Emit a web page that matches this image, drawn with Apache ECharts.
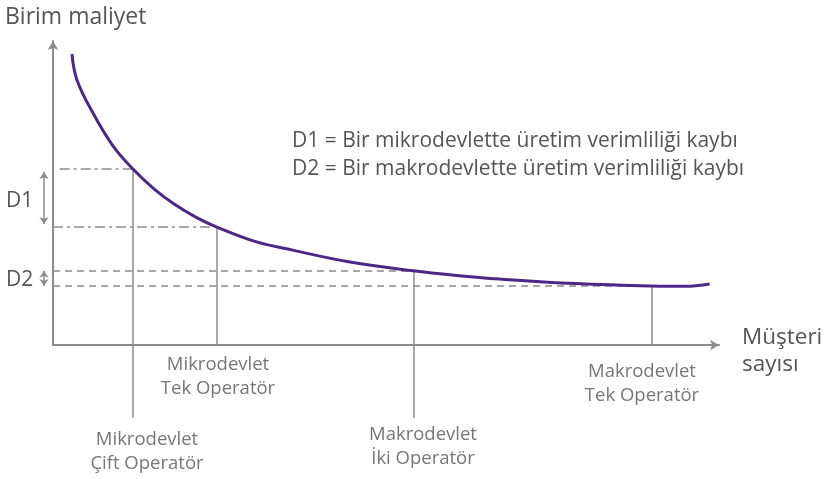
<!DOCTYPE html>
<html>
<head>
<meta charset="utf-8">
<script src="https://cdn.jsdelivr.net/npm/echarts@6/dist/echarts.min.js"></script>
<style>html,body{margin:0;padding:0;background:#fff;}#c{width:826px;height:479px;}</style>
</head>
<body>
<div id="c"></div>
<script>
// Curve of unit cost vs number of customers
const curveX = [2.85, 3.6, 6.0, 9.0, 12.0, 15.2, 18.3, 21.5, 24.6, 30.3, 36.0, 44.6, 54.1, 60.5, 67.1, 78.5, 89.9, 94.9, 98.6];
const curveY = [95.7, 87.2, 76.3, 65.5, 57.9, 51.3, 46.2, 42.0, 38.8, 34.1, 31.2, 27.3, 24.4, 22.9, 21.7, 20.2, 19.4, 19.3, 20.1];
// Reference points on the curve
const refNames = ['Mikrodevlet\nÇift Operatör', 'Mikrodevlet\nTek Operatör', 'Makrodevlet\nİki Operatör', 'Makrodevlet\nTek Operatör'];
const refX = [12.0, 24.6, 54.1, 89.9];
const refY = [57.9, 38.8, 24.4, 19.4];
const dropTo = [-24, 0, -24, 0];      // lower end of each vertical line
const hStart = [1, 0, 0, 0];          // left start of each horizontal line
const arrowX = -1.35;
const legendLines = ['D1 = Bir mikrodevlette üretim verimliliği kaybı', 'D2 = Bir makrodevlette üretim verimliliği kaybı'];

const chart = echarts.init(document.getElementById('c'));
const gray = '#8c8c8c';
const font = '"Open Sans", "Noto Sans", sans-serif';

const verticals = refX.map((x, i) => ({coords: [[x, refY[i]], [x, dropTo[i]]]}));
const dashDot = [0, 1].map(i => ({coords: [[hStart[i], refY[i]], [refX[i], refY[i]]]}));
const dashed = [2, 3].map(i => ({coords: [[hStart[i], refY[i]], [refX[i], refY[i]]]}));
const inset1 = 1.0;
const arrows = [
  {coords: [[arrowX, refY[0] - inset1], [arrowX, refY[1] + inset1]]},
  {coords: [[arrowX, refY[2]], [arrowX, refY[3]]]}
];

const axisCommon = {
  type: 'value',
  axisLine: {show: true, symbol: ['none', 'arrow'], symbolSize: [8, 9], lineStyle: {color: gray, width: 2}},
  axisTick: {show: false}, axisLabel: {show: false}, splitLine: {show: false}
};

const txt = (text, x, y, size, color, align, lh) => ({
  type: 'text', x: x, y: y,
  style: {text: text, font: size + 'px ' + font, fill: color, align: align || 'left', verticalAlign: 'middle', lineHeight: lh || Math.round(size * 1.3)}
});

chart.setOption({
  animation: false,
  grid: {left: 53, right: 107, top: 41, bottom: 134},
  xAxis: Object.assign({min: 0, max: 100}, axisCommon),
  yAxis: Object.assign({min: 0, max: 100}, axisCommon),
  series: [
    {type: 'lines', coordinateSystem: 'cartesian2d', clip: false, silent: true,
     lineStyle: {color: gray, width: 1.5, opacity: 1}, data: verticals},
    {type: 'lines', coordinateSystem: 'cartesian2d', clip: false, silent: true,
     lineStyle: {color: gray, width: 1.5, opacity: 1, type: [10, 4, 3, 4]}, data: dashDot},
    {type: 'lines', coordinateSystem: 'cartesian2d', clip: false, silent: true,
     lineStyle: {color: gray, width: 1.5, opacity: 1, type: [7, 5]}, data: dashed},
    {type: 'lines', coordinateSystem: 'cartesian2d', clip: false, silent: true,
     symbol: ['arrow', 'arrow'], symbolSize: 7,
     lineStyle: {color: gray, width: 1.5, opacity: 1}, data: arrows},
    {type: 'line', data: curveX.map((x, i) => [x, curveY[i]]), smooth: 0.4, showSymbol: false,
     clip: false, z: 5, lineStyle: {color: '#4b2885', width: 3}}
  ],
  graphic: [
    txt('Birim maliyet', 5, 17, 23, '#555'),
    txt('Müşteri\nsayısı', 742, 351, 22.5, '#555', 'left', 27),
    txt(legendLines[0], 292, 141, 21, '#555'),
    txt(legendLines[1], 292, 169, 21, '#555'),
    txt('D1', 6, 201, 21, '#555'),
    txt('D2', 6, 280, 21, '#555'),
    txt(refNames[0], 147, 452, 18.5, '#777', 'center', 24),
    txt(refNames[1], 218, 377, 18.5, '#777', 'center', 24),
    txt(refNames[2], 423, 447, 18.5, '#777', 'center', 24),
    txt(refNames[3], 642, 384, 18.5, '#777', 'center', 24)
  ]
});
</script>
</body>
</html>
